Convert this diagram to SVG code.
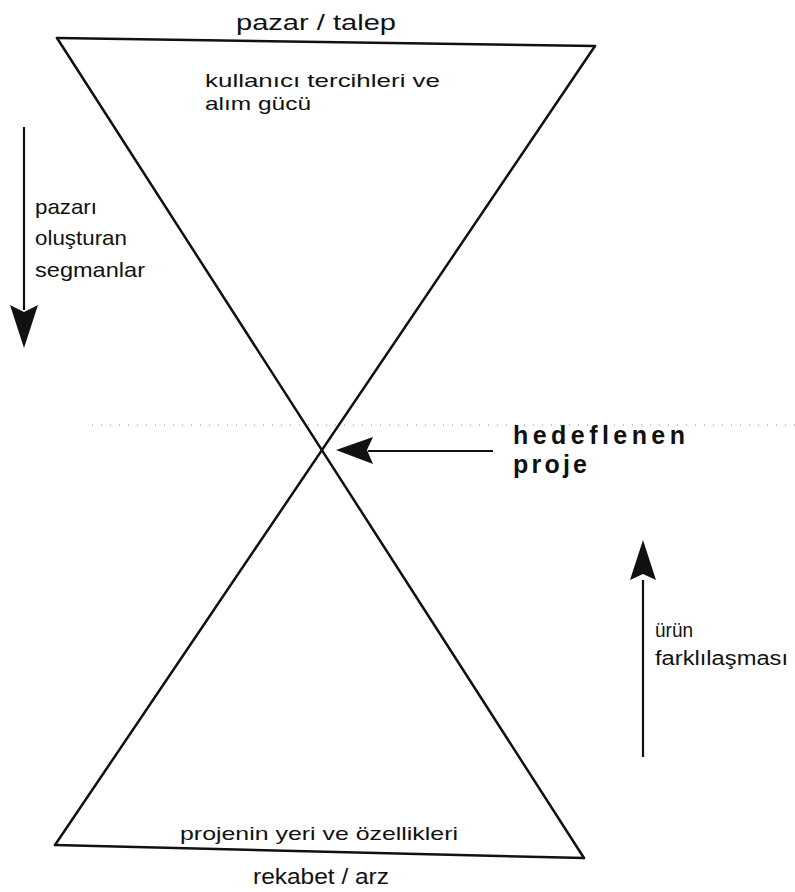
<svg xmlns="http://www.w3.org/2000/svg" width="795" height="892" viewBox="0 0 795 892">
<style>
.t{font-family:"Liberation Sans",Arial,sans-serif;fill:#111;}
.ln{stroke:#111;stroke-width:2.5;fill:none;stroke-linecap:round;}
.ar{stroke:#111;stroke-width:2.2;fill:none;}
.hd{fill:#111;stroke:none;}
.dot{stroke:#888;stroke-width:1;stroke-dasharray:1 8;fill:none;}
</style>
<rect width="795" height="892" fill="#fff"/>
<g id="guides">
<line class="dot" x1="92" y1="425" x2="795" y2="425"/>
</g>
<g id="hourglass">
<line class="ln" x1="57" y1="38" x2="595" y2="46"/>
<line class="ln" x1="57" y1="38" x2="584" y2="858"/>
<line class="ln" x1="595" y1="46" x2="55" y2="845"/>
<line class="ln" x1="55" y1="845" x2="584" y2="858"/>
</g>
<g id="top-label">
<text class="t" x="236" y="30" font-size="22" textLength="160" lengthAdjust="spacingAndGlyphs">pazar / talep</text>
</g>
<g id="top-inner">
<text class="t" x="205" y="87" font-size="19" textLength="235" lengthAdjust="spacingAndGlyphs">kullanıcı tercihleri ve</text>
<text class="t" x="205" y="110" font-size="19" textLength="106" lengthAdjust="spacingAndGlyphs">alım gücü</text>
</g>
<g id="bottom-inner">
<text class="t" x="180" y="840" font-size="19" textLength="278" lengthAdjust="spacingAndGlyphs">projenin yeri ve özellikleri</text>
</g>
<g id="bottom-label">
<text class="t" x="253" y="884" font-size="22" textLength="136" lengthAdjust="spacingAndGlyphs">rekabet / arz</text>
</g>
<g id="left-label">
<text class="t" x="35" y="214" font-size="21" textLength="62" lengthAdjust="spacingAndGlyphs">pazarı</text>
<text class="t" x="35" y="245" font-size="21" textLength="92" lengthAdjust="spacingAndGlyphs">oluşturan</text>
<text class="t" x="35" y="277" font-size="21" textLength="110" lengthAdjust="spacingAndGlyphs">segmanlar</text>
</g>
<g id="right-label">
<text class="t" x="655" y="637" font-size="20" textLength="38" lengthAdjust="spacingAndGlyphs">ürün</text>
<text class="t" x="655" y="665" font-size="20" textLength="133" lengthAdjust="spacingAndGlyphs">farklılaşması</text>
</g>
<g id="target-label">
<text class="t" x="513" y="444" font-size="25" font-weight="bold" textLength="172" lengthAdjust="spacing">hedeflenen</text>
<text class="t" x="513" y="473" font-size="25" font-weight="bold" textLength="74" lengthAdjust="spacing">proje</text>
</g>
<g id="connectors">
<line class="ar" x1="24" y1="127" x2="24" y2="310"/>
<polygon class="hd" points="10,305 24,312 38,305 24,348"/>
<line class="ar" x1="643" y1="580" x2="643" y2="757"/>
<polygon class="hd" points="630,580 643,574 656,580 643,540"/>
<line class="ar" x1="368" y1="451" x2="493" y2="451"/>
<polygon class="hd" points="373,437 367,450 373,464 336,450"/>
</g>
</svg>
